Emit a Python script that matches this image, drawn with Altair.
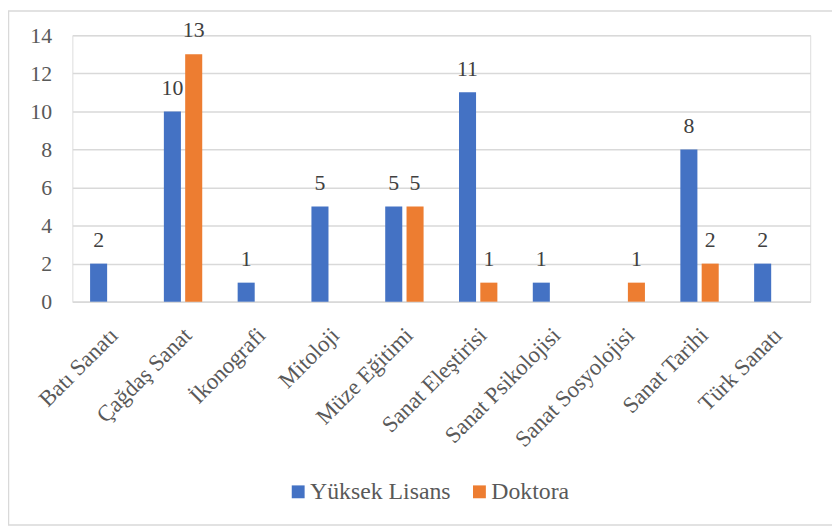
import altair as alt
import pandas as pd

categories = ["Batı Sanatı", "Çağdaş Sanat", "İkonografi", "Mitoloji", "Müze Eğitimi",
              "Sanat Eleştirisi", "Sanat Psikolojisi", "Sanat Sosyolojisi", "Sanat Tarihi", "Türk Sanatı"]
yuksek_lisans = [2, 10, 1, 5, 5, 11, 1, 0, 8, 2]
doktora = [0, 13, 0, 0, 5, 1, 0, 1, 2, 0]
series = ["Yüksek Lisans", "Doktora"]
colors = ["#4472C4", "#ED7D31"]
y_ticks = [0, 2, 4, 6, 8, 10, 12, 14]

rows = []
for c, a, b in zip(categories, yuksek_lisans, doktora):
    rows.append({"kategori": c, "seri": series[0], "deger": a})
    rows.append({"kategori": c, "seri": series[1], "deger": b})
df = pd.DataFrame(rows)

FONT = "Liberation Serif"

x_enc = alt.X("kategori:N", sort=categories, title=None,
              scale=alt.Scale(paddingInner=0.48, paddingOuter=0.24),
              axis=alt.Axis(labelAngle=-45, labelAlign="right", labelBaseline="middle",
                            labelPadding=30, labelOffset=5, ticks=False, labelOverlap=False,
                            domainColor="#D9D9D9", domainWidth=1.5, labelLimit=400,
                            labelFontSize=23, labelColor="#595959", labelFont=FONT, zindex=0))
y_enc = alt.Y("deger:Q", title=None,
              scale=alt.Scale(domain=[0, 14], nice=False),
              axis=alt.Axis(values=y_ticks, ticks=False, domain=False,
                            labelOverlap=False, zindex=0,
                            gridColor="#D9D9D9", gridWidth=1.5,
                            labelPadding=21, labelFontSize=22, labelColor="#595959",
                            labelFont=FONT))
xoff = alt.XOffset("seri:N", sort=series, scale=alt.Scale(paddingInner=0.2, paddingOuter=0))
color_enc = alt.Color("seri:N", sort=series, scale=alt.Scale(domain=series, range=colors),
                      legend=alt.Legend(title=None, orient="none", legendX=216, legendY=449,
                                        direction="horizontal", symbolType="square",
                                        symbolSize=169, symbolStrokeWidth=0, padding=0,
                                        labelFontSize=24, labelColor="#595959", labelFont=FONT,
                                        labelOffset=0, columnPadding=17, labelLimit=400))

base = alt.Chart(df)

bars = base.mark_bar().encode(x=x_enc, xOffset=xoff, y=y_enc, color=color_enc)

labels = base.transform_filter("datum.deger > 0").mark_text(
    baseline="alphabetic", dy=-17, fontSize=22, font=FONT, color="#404040"
).encode(
    x=x_enc,
    xOffset=xoff,
    y=y_enc,
    text=alt.Text("deger:Q"),
)

frame = alt.Chart(pd.DataFrame({"a": [0]})).mark_rect(
    fill=None, stroke="#D9D9D9", strokeWidth=1.5
).encode(
    x=alt.value(-64.5), x2=alt.value(820),
    y=alt.value(-24.5), y2=alt.value(494.5),
)

chart = alt.layer(bars, labels, frame).properties(
    width=745, height=269,
    autosize=alt.AutoSizeParams(type="none"),
    padding={"left": 65, "top": 25, "right": 22, "bottom": 227},
).configure_view(stroke=None).configure(
    background="white", font=FONT
).configure_axis(labelFont=FONT, labelOverlap=False).configure_legend(labelFont=FONT).configure_text(font=FONT)

chart.save("out.html", embed_options={"renderer": "svg", "actions": False})
